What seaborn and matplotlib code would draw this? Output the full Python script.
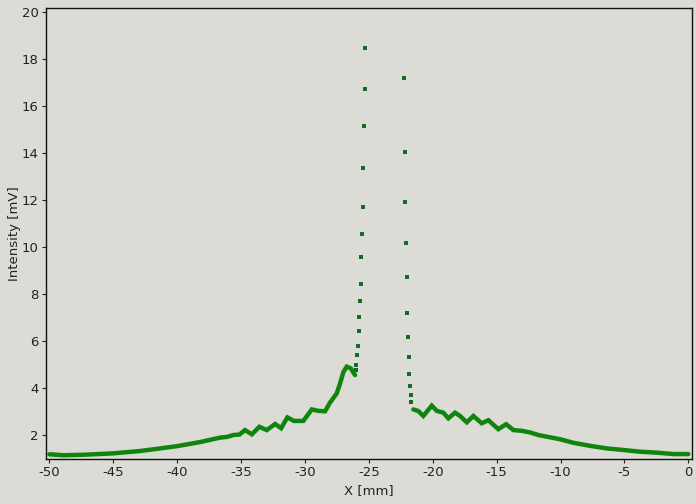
import matplotlib
matplotlib.use("Agg")
import matplotlib.pyplot as plt
import seaborn as sns
import pandas as pd

# Continuous left branch (mm, mV)
left_x = [-50.0, -48.9, -47.34, -44.99, -42.9, -41.34, -39.98, -38.21, -36.64, -36.1,
          -35.6, -35.13, -34.69, -34.16, -33.57, -32.99, -32.34, -31.87, -31.38, -30.86,
          -30.13, -29.47, -28.96, -28.43, -28.04, -27.52, -27.25, -26.99, -26.73, -26.42,
          -26.08]
left_y = [1.18, 1.14, 1.16, 1.22, 1.32, 1.43, 1.53, 1.70, 1.89, 1.92,
          2.0, 2.02, 2.21, 2.03, 2.35, 2.21, 2.47, 2.29, 2.75, 2.60,
          2.60, 3.09, 3.03, 3.01, 3.38, 3.77, 4.20, 4.69, 4.91, 4.84,
          4.55]

# Sparse points on the steep flanks of the peak
peak_x = [-25.98, -25.98, -25.90, -25.82, -25.74, -25.74, -25.67, -25.59, -25.59, -25.51,
          -25.43, -25.43, -25.35, -25.27, -25.27,
          -22.22, -22.14, -22.14, -22.07, -21.99, -21.99, -21.91, -21.83, -21.83, -21.75,
          -21.67, -21.67]
peak_y = [4.75, 4.97, 5.39, 5.77, 6.41, 7.01, 7.69, 8.41, 9.56, 10.54,
          11.69, 13.35, 15.14, 16.71, 18.46,
          17.18, 14.03, 11.90, 10.16, 8.71, 7.18, 6.16, 5.31, 4.58, 4.07,
          3.69, 3.39]

# Continuous right branch
right_x = [-21.52, -21.13, -20.74, -20.08, -19.69, -19.17, -18.78, -18.26, -17.86, -17.34,
           -16.82, -16.17, -15.65, -14.87, -14.26, -13.69, -13.04, -12.39, -11.74, -11.08,
           -10.04, -9.0, -7.69, -6.38, -5.03, -3.78, -2.47, -1.17, 0.0]
right_y = [3.09, 3.02, 2.81, 3.25, 3.03, 2.95, 2.71, 2.95, 2.81, 2.54,
           2.81, 2.50, 2.63, 2.25, 2.46, 2.21, 2.18, 2.11, 2.00, 1.93,
           1.82, 1.67, 1.54, 1.43, 1.36, 1.29, 1.25, 1.19, 1.19]

x_ticks = list(range(-50, 1, 5))
y_ticks = list(range(2, 21, 2))

bg = "#dcdbd6"
green = "#0e860e"
dot_green = "#176a22"

sns.set_theme(style="ticks")
plt.rcParams['font.family'] = ['DejaVu Sans']

fig = plt.figure(figsize=(6.96, 5.04), dpi=100, facecolor=bg)
ax = fig.add_axes([0.0657, 0.0893, 0.9286, 0.8942])
ax.set_facecolor(bg)

df_l = pd.DataFrame({"x": left_x, "y": left_y})
df_r = pd.DataFrame({"x": right_x, "y": right_y})
df_p = pd.DataFrame({"x": peak_x, "y": peak_y})

sns.lineplot(data=df_l, x="x", y="y", ax=ax, color=green, linewidth=3.2,
             sort=False, estimator=None, solid_joinstyle="miter")
sns.lineplot(data=df_r, x="x", y="y", ax=ax, color=green, linewidth=3.2,
             sort=False, estimator=None, solid_joinstyle="miter")
sns.scatterplot(data=df_p, x="x", y="y", ax=ax, color=dot_green, marker="s",
                s=6, linewidth=0)

ax.set_xlim(-50.29, 0.29)
ax.set_ylim(0.98, 20.16)
ax.set_xticks(x_ticks)
ax.set_xticklabels([str(t) for t in x_ticks])
ax.set_yticks(y_ticks)
ax.set_yticklabels([str(t) for t in y_ticks])

for s in ax.spines.values():
    s.set_visible(True)
    s.set_color("#111111")
    s.set_linewidth(1.0)

ax.tick_params(axis="both", direction="out", length=3, width=0.8,
               colors="#222222", labelsize=9.5, pad=2)
ax.set_xlabel("X [mm]", fontsize=9.5, color="#222222", labelpad=4)
ax.set_ylabel("Intensity [mV]", fontsize=9.5, color="#222222", labelpad=0.5)

fig.savefig("out.png", dpi=100, facecolor=bg)
